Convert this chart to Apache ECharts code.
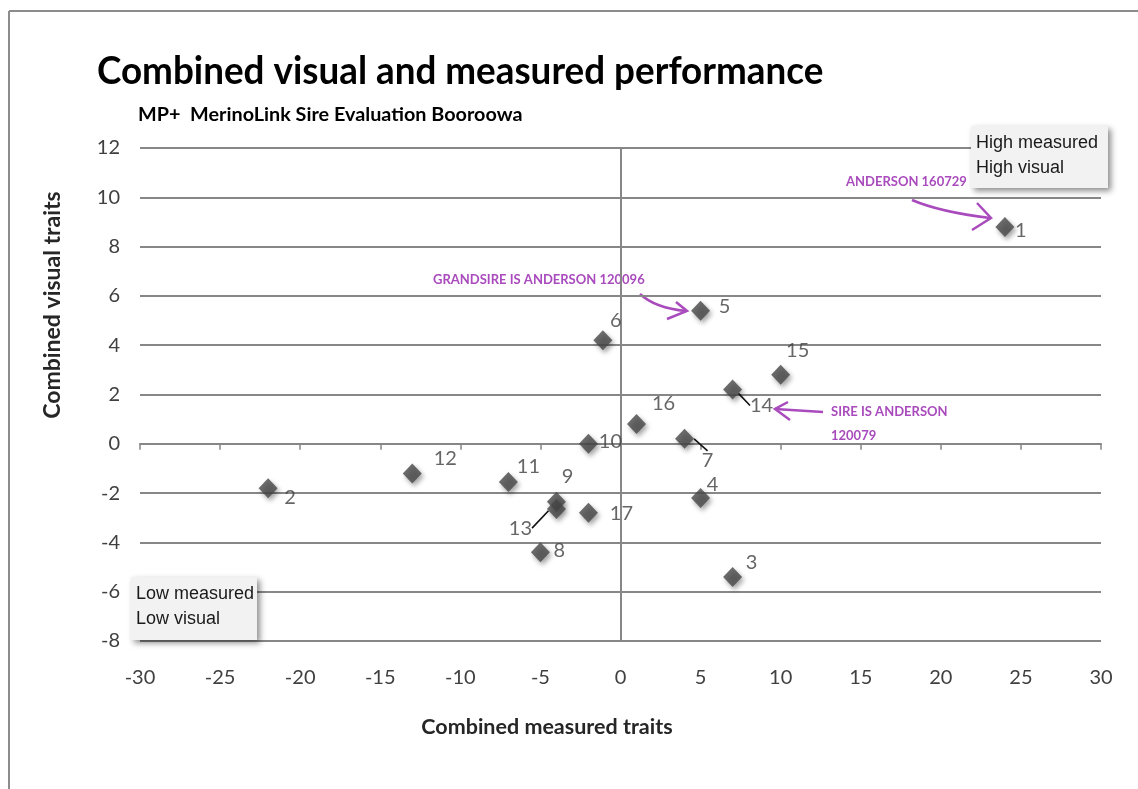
<!DOCTYPE html>
<html><head><meta charset="utf-8">
<script src="https://cdn.jsdelivr.net/npm/echarts@6/dist/echarts.min.js"></script>
<style>html,body{margin:0;padding:0;background:#fff}#c{width:1138px;height:789px}</style>
</head><body><div id="c"></div>
<script>
// ---- data ----
const sireIds  = ['1','2','3','4','5','6','7','8','9','10','11','12','13','14','15','16','17'];
const measured = [24, -22, 7, 5, 5, -1.1, 4, -5, -4, -2, -7, -13, -4, 7, 10, 1, -2];
const visual   = [8.8, -1.8, -5.4, -2.2, 5.4, 4.2, 0.2, -4.4, -2.35, 0, -1.55, -1.2, -2.65, 2.2, 2.8, 0.8, -2.8];
const xTicks = [-30, -25, -20, -15, -10, -5, 0, 5, 10, 15, 20, 25, 30];
const yTicks = [-8, -6, -4, -2, 0, 2, 4, 6, 8, 10, 12];
const leaderIds = ['7', '13', '14'];
// label placement (style), pixel offsets from each marker
const labelOffsets = [[16,4],[22,9],[19,-14],[12,-13],[24,-4],[13,-20],[23,22],[19,-2],[11,-25],[22,-2],[20,-15],[33,-15],[-36,19],[29,16],[17,-24],[27,-21],[33,1]];

const CAL = 'Lato, "Open Sans", sans-serif';
const GRID = '#878787';
const PURPLE = '#a94bbd';

const chart = echarts.init(document.getElementById('c'), null, {renderer: 'canvas'});

const pts = sireIds.map((id, i) => {
  const d = {name: id, value: [measured[i], visual[i]]};
  if (leaderIds.includes(id)) d.labelLine = {show: true, lineStyle: {color: '#111', width: 1.6}};
  return d;
});

const axisLabelX = {fontFamily: CAL, fontSize: 20, color: '#404040', margin: 27};
const axisLabelY = {fontFamily: CAL, fontSize: 20, color: '#404040', margin: 20};

function box(x, y, w, h, lines) {
  return {
    type: 'group', left: x, top: y, z: 100, children: [
      {type: 'rect', z: 100, shape: {x: 0, y: 0, width: w, height: h},
       style: {fill: '#f2f2f2', shadowBlur: 6, shadowOffsetX: 3, shadowOffsetY: 3, shadowColor: 'rgba(0,0,0,0.45)'}},
      {type: 'text', z: 101, x: 5, y: 5, style: {text: lines, font: '18px "Liberation Sans", Arial, sans-serif', fill: '#1a1a1a', lineHeight: 25}}
    ]
  };
}

const option = {
  backgroundColor: '#ffffff',
  animation: false,
  grid: {left: 140, right: 37, top: 148, bottom: 148, containLabel: false},
  xAxis: [
    {type: 'value', min: xTicks[0], max: xTicks[xTicks.length - 1], interval: 5, position: 'bottom',
     axisLine: {show: false, onZero: false}, axisTick: {show: false}, splitLine: {show: false},
     axisLabel: axisLabelX},
    {type: 'value', min: xTicks[0], max: xTicks[xTicks.length - 1], interval: 5, position: 'bottom',
     axisLine: {show: true, onZero: true, onZeroAxisIndex: 0, lineStyle: {color: GRID, width: 2}},
     axisTick: {show: true, length: 6, lineStyle: {color: GRID, width: 1.5}},
     axisLabel: {show: false}, splitLine: {show: false}}
  ],
  yAxis: [
    {type: 'value', min: yTicks[0], max: yTicks[yTicks.length - 1], interval: 2, position: 'left',
     axisLine: {show: false, onZero: false}, axisTick: {show: false},
     splitLine: {show: true, lineStyle: {color: GRID, width: 2}},
     axisLabel: axisLabelY},
    {type: 'value', min: yTicks[0], max: yTicks[yTicks.length - 1], interval: 2, position: 'left',
     axisLine: {show: true, onZero: true, onZeroAxisIndex: 0, lineStyle: {color: GRID, width: 2}},
     axisTick: {show: false}, axisLabel: {show: false}, splitLine: {show: false}}
  ],
  series: [{
    type: 'scatter', xAxisIndex: 0, yAxisIndex: 0,
    symbol: 'diamond', symbolSize: [19, 20],
    itemStyle: {color: '#474747', shadowBlur: 5, shadowOffsetX: 2, shadowOffsetY: 3, shadowColor: 'rgba(0,0,0,0.45)'},
    label: {show: true, position: 'inside', formatter: p => p.name, fontFamily: CAL, fontSize: 20, color: '#404040'},
    labelLayout: p => ({dx: labelOffsets[p.dataIndex][0], dy: labelOffsets[p.dataIndex][1]}),
    labelLine: {show: false},
    data: pts
  }],
  graphic: [
    {type: 'line', shape: {x1: 9, y1: 11, x2: 1138, y2: 11}, style: {stroke: '#8c8c8c', lineWidth: 2}},
    {type: 'line', shape: {x1: 9, y1: 11, x2: 9, y2: 789}, style: {stroke: '#8c8c8c', lineWidth: 2}},
    {type: 'text', x: 97, y: 52, scaleX: 0.944, style: {text: 'Combined visual and measured performance', font: 'bold 39px Lato, sans-serif', fill: '#000'}},
    {type: 'text', x: 138, y: 106, scaleX: 1.1, style: {text: 'MP+  MerinoLink Sire Evaluation Booroowa', font: 'bold 18px ' + CAL, fill: '#000'}},
    {type: 'text', x: 547, y: 727, style: {text: 'Combined measured traits', font: 'bold 21.5px ' + CAL, fill: '#262626', align: 'center', verticalAlign: 'middle'}},
    {type: 'text', x: 53, y: 305, rotation: Math.PI / 2, style: {text: 'Combined visual traits', font: 'bold 23px ' + CAL, fill: '#262626', align: 'center', verticalAlign: 'middle'}},
    box(971, 126, 137, 62, 'High measured\nHigh visual'),
    box(131, 577, 126, 63, 'Low measured\nLow visual'),
    {type: 'text', x: 846, y: 182, style: {text: 'ANDERSON 160729', font: 'bold 13px ' + CAL, fill: PURPLE, verticalAlign: 'middle'}},
    {type: 'text', x: 433, y: 280, style: {text: 'GRANDSIRE IS ANDERSON 120096', font: 'bold 13px ' + CAL, fill: PURPLE, verticalAlign: 'middle'}},
    {type: 'text', x: 831, y: 412, style: {text: 'SIRE IS ANDERSON', font: 'bold 13px ' + CAL, fill: PURPLE, verticalAlign: 'middle'}},
    {type: 'text', x: 831, y: 436, style: {text: '120079', font: 'bold 13px ' + CAL, fill: PURPLE, verticalAlign: 'middle'}},
    // hand-drawn arrows
    {type: 'bezierCurve', shape: {x1: 912, y1: 200, cpx1: 940, cpy1: 212, x2: 990, y2: 218}, style: {stroke: PURPLE, lineWidth: 2.5, fill: null}},
    {type: 'polyline', shape: {points: [[977, 203], [991, 218], [972, 230]]}, style: {stroke: PURPLE, lineWidth: 2.5, fill: null}},
    {type: 'bezierCurve', shape: {x1: 640, y1: 294, cpx1: 655, cpy1: 308, x2: 686, y2: 311}, style: {stroke: PURPLE, lineWidth: 2.5, fill: null}},
    {type: 'polyline', shape: {points: [[676, 302], [687, 311], [667, 319]]}, style: {stroke: PURPLE, lineWidth: 2.5, fill: null}},
    {type: 'line', shape: {x1: 823, y1: 412, x2: 775, y2: 409}, style: {stroke: PURPLE, lineWidth: 2.5}},
    {type: 'polyline', shape: {points: [[788, 402], [775, 409], [790, 420]]}, style: {stroke: PURPLE, lineWidth: 2.5, fill: null}}
  ]
};
chart.setOption(option);
</script></body></html>
